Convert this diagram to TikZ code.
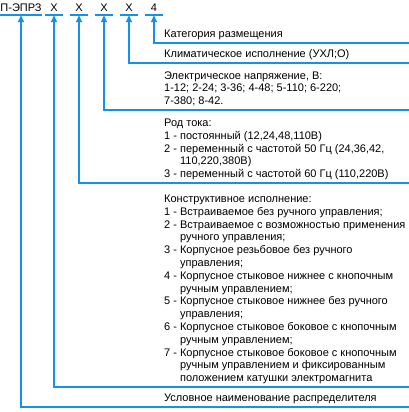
\documentclass[tikz,border=0pt]{standalone}
\usepackage{fontspec}
\setmainfont{Liberation Sans}
\usetikzlibrary{arrows.meta}
\definecolor{leadblue}{RGB}{20,145,235}
\tikzset{>={Triangle[width=6pt,length=7pt]}}
\tikzset{lead/.style={draw=leadblue,line width=1.5pt}}
\tikzset{code/.style={anchor=base,inner sep=0pt,text height=8pt,text depth=3pt,minimum width=18pt}}
\tikzset{desc/.style={anchor=south west,align=left,inner xsep=0pt,inner ysep=1.2pt}}
\newcommand{\cont}{\phantom{2 - }}

\begin{document}
\begin{tikzpicture}[x=1pt,y=-1pt,font=\fontsize{11}{12.8}\selectfont]
\useasboundingbox (0,0) rectangle (409,412);

% code of the valve
\node[code,minimum width=37pt] (valve) at (21,12) {П-ЭПРЗ};
\node[code] (x1) at (54,12) {X};
\node[code] (x2) at (79,12) {X};
\node[code] (x3) at (104,12) {X};
\node[code] (x4) at (129,12) {X};
\node[code] (n5) at (154,12) {4};

\foreach \n in {valve,x1,x2,x3,x4,n5}
  \draw[lead] (\n.south west) -- (\n.south east);

% right ends of the leads
\coordinate (e5) at (409,43);
\coordinate (e4) at (409,63);
\coordinate (e3) at (409,110);
\coordinate (e2) at (409,183);
\coordinate (e1) at (409,387);
\coordinate (e0) at (409,407);

\draw[lead,<-] (n5.south) |- (e5);
\draw[lead,<-] (x4.south) |- (e4);
\draw[lead,<-] (x3.south) |- (e3);
\draw[lead,<-] (x2.south) |- (e2);
\draw[lead,<-] (x1.south) |- (e1);
\draw[lead,<-] (valve.south) |- (e0);

% descriptions
\node[desc] (place) at (164,43) {Категория размещения\strut};
\node[desc] (climate) at (164,63) {Климатическое исполнение (УХЛ;О)\strut};
\node[desc] (voltage) at (164,110) {Электрическое напряжение, В:\\
1-12; 2-24; 3-36; 4-48; 5-110; 6-220;\\
7-380; 8-42.\strut};
\node[desc] (current) at (164,183) {Род тока:\\
1 - постоянный (12,24,48,110В)\\
2 - переменный с частотой 50 Гц (24,36,42,\\
\cont 110,220,380В)\\
3 - переменный с частотой 60 Гц (110,220В)\strut};
\node[desc] (design) at (164,387) {Конструктивное исполнение:\\
1 - Встраиваемое без ручного управления;\\
2 - Встраиваемое с возможностью применения\\
\cont ручного управления;\\
3 - Корпусное резьбовое без ручного\\
\cont управления;\\
4 - Корпусное стыковое нижнее с кнопочным\\
\cont ручным управлением;\\
5 - Корпусное стыковое нижнее без ручного\\
\cont управления;\\
6 - Корпусное стыковое боковое с кнопочным\\
\cont ручным управлением;\\
7 - Корпусное стыковое боковое с кнопочным\\
\cont ручным управлением и фиксированным\\
\cont положением катушки электромагнита\strut};
\node[desc] (title) at (164,407) {Условное наименование распределителя\strut};
\end{tikzpicture}
\end{document}
